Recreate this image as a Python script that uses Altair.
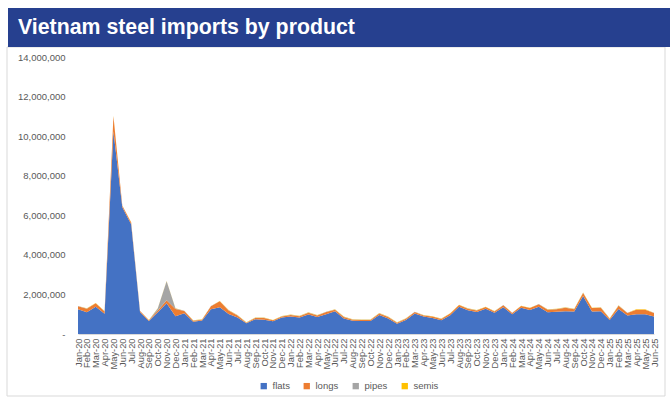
import altair as alt
import pandas as pd

# Month labels Jan-20 .. Jun-25
mon = ["Jan", "Feb", "Mar", "Apr", "May", "Jun", "Jul", "Aug", "Sep", "Oct", "Nov", "Dec"]
months = [f"{m}-{y}" for y in range(20, 26) for m in mon][:66]

# Monthly imports, thousand tonnes
flats = [1250, 1100, 1380, 1020, 10250, 6400, 5550, 1100, 660, 1100, 1550, 900,
         1050, 620, 680, 1250, 1350, 1010, 830, 540, 740, 720, 640, 830,
         880, 840, 980, 860, 1000, 1150, 780, 670, 660, 660, 960, 780,
         520, 710, 1030, 880, 810, 700, 950, 1380, 1200, 1110, 1280, 1080,
         1350, 1000, 1330, 1210, 1380, 1100, 1120, 1150, 1140, 1920, 1140, 1150,
         710, 1260, 930, 1000, 1000, 880]
longs = [150, 180, 170, 120, 750, 80, 80, 60, 30, 90, 160, 360,
         110, 50, 40, 150, 300, 180, 110, 30, 70, 90, 50, 60,
         80, 60, 100, 80, 110, 80, 80, 50, 50, 50, 80, 80,
         50, 60, 80, 60, 70, 60, 80, 80, 80, 80, 80, 60,
         100, 60, 80, 100, 120, 130, 130, 180, 110, 150, 170, 180,
         60, 170, 130, 220, 220, 180]
pipes = [10] * 66
pipes[9], pipes[10], pipes[11] = 100, 960, 30
semis = [10] * 66
for i in (4, 57, 63, 64):
    semis[i] = 20

products = ["flats", "longs", "pipes", "semis"]
colors = ["#4472C4", "#ED7D31", "#A5A5A5", "#FFC000"]
series = [flats, longs, pipes, semis]

rows = []
for k, (name, vals) in enumerate(zip(products, series)):
    for m, v in zip(months, vals):
        rows.append({"month": m, "product": name, "order": k, "tonnes": v * 1000})
df = pd.DataFrame(rows)

one = pd.DataFrame({"t": ["Vietnam steel imports by product"]})

frame = alt.Chart(one).mark_rect(filled=False, stroke="#D9D9D9", strokeWidth=1).encode(
    x=alt.value(-71), x2=alt.value(587), y=alt.value(-10), y2=alt.value(339)
)
banner = alt.Chart(one).mark_rect(fill="#26408F").encode(
    x=alt.value(-70), x2=alt.value(600), y=alt.value(-49), y2=alt.value(-10)
)
title = alt.Chart(one).mark_text(
    align="left", baseline="middle", font="Liberation Sans", fontWeight="bold",
    fontSize=21.3, color="white"
).encode(text="t:N", x=alt.value(-60), y=alt.value(-29))

area = alt.Chart(df).mark_area(interpolate="linear", opacity=1).encode(
    x=alt.X("month:O", sort=months, scale=alt.Scale(type="point", padding=0),
            axis=alt.Axis(title=None, labelAngle=270, labelPadding=4, ticks=False,
                          domainColor="#D9D9D9", labelFont="Liberation Sans",
                          labelFontSize=9.3, labelColor="#595959")),
    y=alt.Y("tonnes:Q", stack="zero", scale=alt.Scale(domain=[0, 14000000]),
            axis=alt.Axis(title=None, values=list(range(0, 14000001, 2000000)),
                          labelExpr="datum.value == 0 ? '-' : format(datum.value, ',')",
                          domain=False, ticks=False, grid=False, labelPadding=13,
                          labelFont="Liberation Sans", labelFontSize=9.5,
                          labelColor="#595959")),
    color=alt.Color("product:N", sort=products,
                    scale=alt.Scale(domain=products, range=colors),
                    legend=alt.Legend(title=None, orient="none", legendX=181, legendY=324,
                                      direction="horizontal", symbolType="square",
                                      symbolSize=40, symbolStrokeWidth=0,
                                      labelFont="Liberation Sans", labelFontSize=9.5,
                                      labelColor="#595959", columnPadding=12,
                                      padding=0)),
    order=alt.Order("order:Q", sort="ascending"),
)

chart = alt.layer(frame, banner, title, area).properties(
    width=576, height=277,
    autosize=alt.AutoSizeParams(type="none"),
    padding={"left": 78, "top": 57, "right": 16, "bottom": 66},
    background="white",
).configure_view(stroke=None)

chart.save("out.html", embed_options={"renderer": "svg", "actions": False})
